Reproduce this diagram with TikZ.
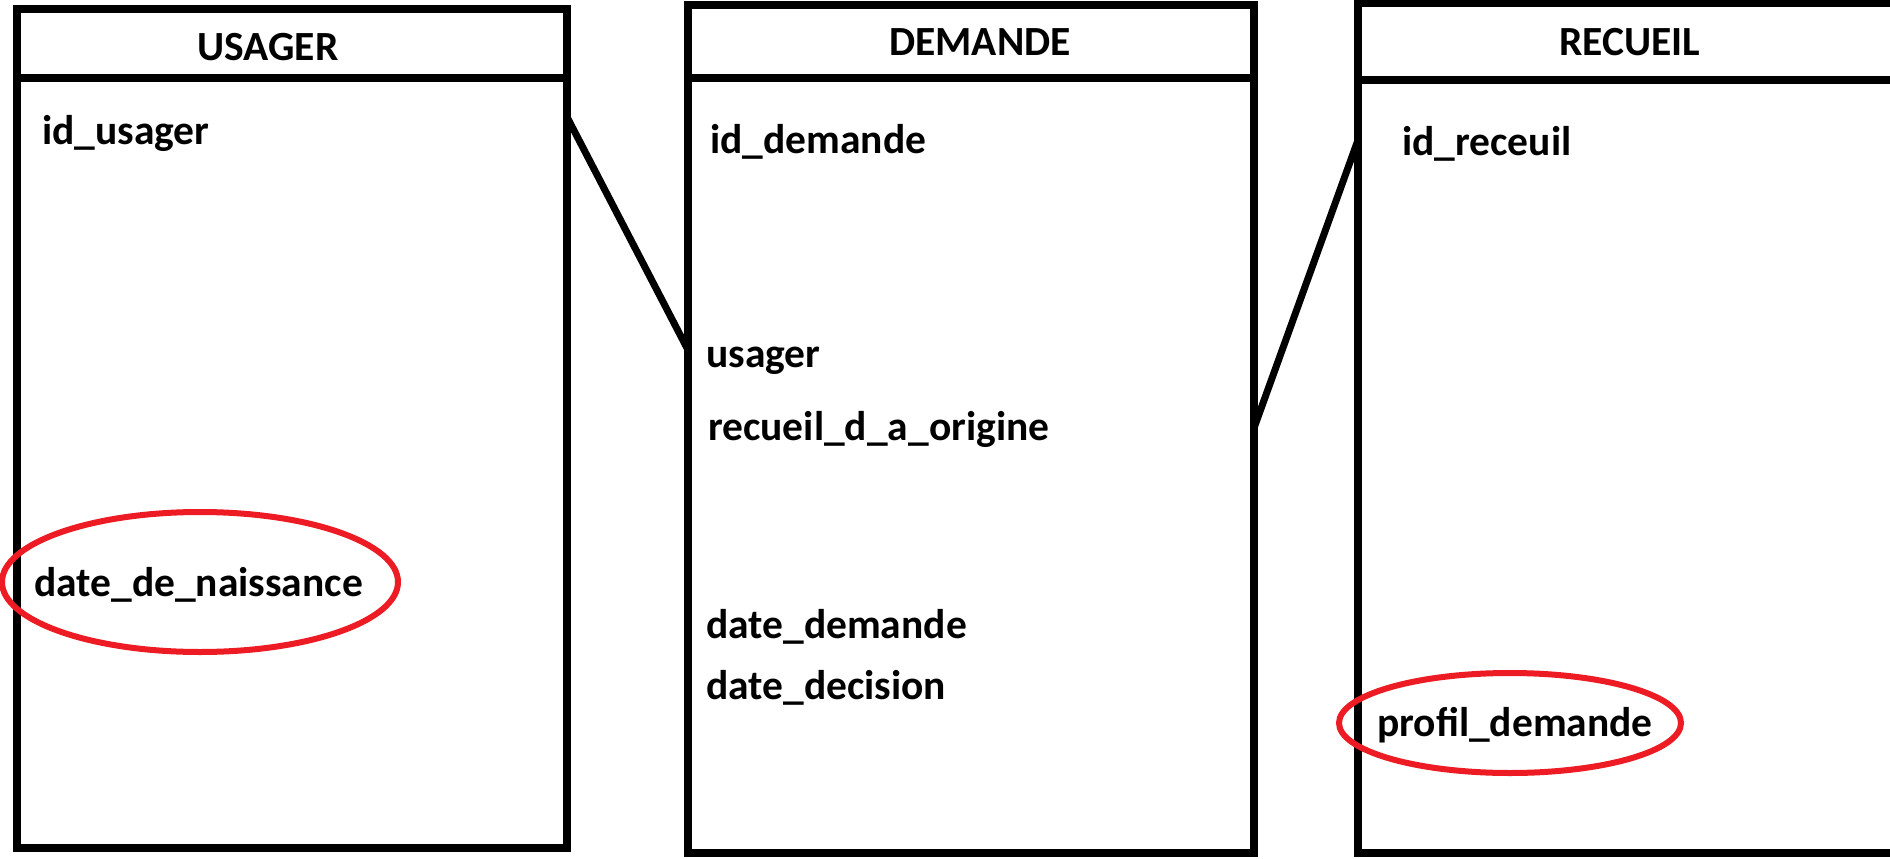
\documentclass[tikz,border=0pt]{standalone}
\usepackage{fontspec}
\setmainfont{Carlito}
\usetikzlibrary{shapes.geometric}
\definecolor{ringred}{HTML}{ED1C24}
\begin{document}
\begin{tikzpicture}[x=1pt,y=-1pt,
  entity/.style={draw=black, line width=8pt, rectangle, inner sep=0pt},
  sepline/.style={draw=black, line width=8pt},
  link/.style={draw=black, line width=7pt},
  field/.style={anchor=base west, inner sep=0pt, font=\fontsize{41.5}{50}\selectfont\bfseries},
  etitle/.style={anchor=base, inner sep=0pt, font=\fontsize{41.5}{50}\selectfont\bfseries},
  redring/.style={draw=ringred, line width=6pt, ellipse, inner sep=0pt}]
\useasboundingbox (0,0) rectangle (1890,859);
\fill[white] (0,0) rectangle (1890,859);

% entity boxes
\node[entity, minimum width=550pt, minimum height=839pt] (usagerbox) at (292,428.5) {};
\node[entity, minimum width=566pt, minimum height=848pt] (demandebox) at (971,429) {};
\node[entity, minimum width=562pt, minimum height=850pt] (recueilbox) at (1639,428) {};

% header separators
\draw[sepline] (usagerbox.west |- 0,78) -- (usagerbox.east |- 0,78);
\draw[sepline] (demandebox.west |- 0,78) -- (demandebox.east |- 0,78);
\draw[sepline] (recueilbox.west |- 0,80) -- (recueilbox.east |- 0,80);

% titles
\node[etitle] (tusager) at (268,61) {USAGER};
\node[etitle] (tdemande) at (980,56) {DEMANDE};
\node[etitle] (trecueil) at (1630,56) {RECUEIL};

% fields
\node[field] (idusager) at (42,144) {id\_usager};
\node[field] (naissance) at (34,596) {date\_de\_naissance};

\node[field] (iddemande) at (710,153) {id\_demande};
\node[field] (fusager) at (706,367) {usager};
\node[field] (forigine) at (708,440) {recueil\_d\_a\_origine};
\node[field] (fdatedem) at (706,638) {date\_demande};
\node[field] (fdatedec) at (706,699) {date\_decision};

\node[field] (idreceuil) at (1402,155) {id\_receuil};
\node[field] (profil) at (1377,736) {profil\_demande};

% red rings
\node[redring, minimum width=396pt, minimum height=140pt] (ring1) at (200,582) {};
\node[redring, minimum width=342pt, minimum height=100pt] (ring2) at (1510,723) {};

% connectors
\coordinate (c1a) at (567,117);
\coordinate (c1b) at (688,350);
\coordinate (c2a) at (1254,428);
\coordinate (c2b) at (1358,140);
\draw[link] (c1a) -- (c1b);
\draw[link] (c2a) -- (c2b);
\end{tikzpicture}
\end{document}
